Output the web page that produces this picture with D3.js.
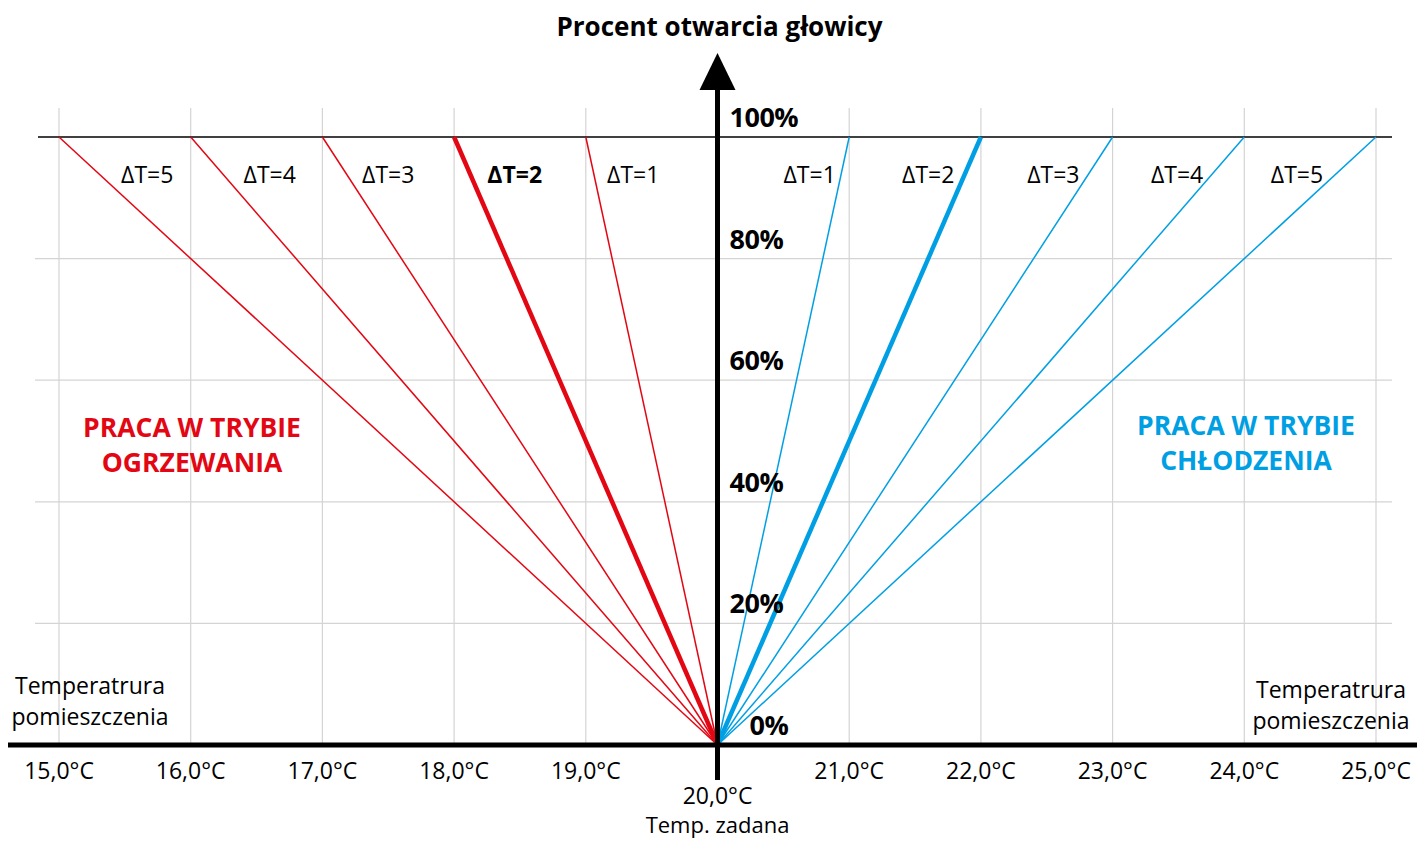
<!DOCTYPE html>
<html><head><meta charset="utf-8">
<script src="https://cdn.jsdelivr.net/npm/d3@7"></script>
<style>body{margin:0;background:#fff}svg{display:block}text{font-family:"Open Sans","Noto Sans",sans-serif}</style>
</head><body><svg id="c" width="1417" height="841"></svg>
<script>
const xTicks = [15,16,17,18,19,20,21,22,23,24,25];
const xTickLabels = ["15,0°C","16,0°C","17,0°C","18,0°C","19,0°C","20,0°C","21,0°C","22,0°C","23,0°C","24,0°C","25,0°C"];
const yTicks = [0,20,40,60,80,100];
const yTickLabels = ["0%","20%","40%","60%","80%","100%"];
const setpoint = 20;
const heatingDeltas = [5,4,3,2,1];
const coolingDeltas = [1,2,3,4,5];
const heatingLabelX = [15.67,16.6,17.5,18.46,19.36];
const coolingLabelX = [20.7,21.6,22.55,23.49,24.4];
const highlighted = 2;

const svg = d3.select("#c");
const x = d3.scaleLinear().domain([15,25]).range([59,1376]);
const y = d3.scaleLinear().domain([0,100]).range([745,137]);
const RED = "#e30613", BLUE = "#009fe3";

// grid
svg.append("g").selectAll("line").data(yTicks.filter(v=>v>0&&v<100)).join("line")
  .attr("x1",35).attr("x2",1392).attr("y1",d=>y(d)).attr("y2",d=>y(d))
  .attr("stroke","#d4d4d4").attr("stroke-width",1.2);
svg.append("g").selectAll("line").data(xTicks.filter(v=>v!==setpoint)).join("line")
  .attr("x1",d=>x(d)).attr("x2",d=>x(d)).attr("y1",108).attr("y2",y(0))
  .attr("stroke","#d4d4d4").attr("stroke-width",1.2);
svg.append("line").attr("x1",38).attr("x2",1392).attr("y1",y(100)).attr("y2",y(100))
  .attr("stroke","#000").attr("stroke-width",1.3);

// lines
svg.append("g").selectAll("line").data(heatingDeltas).join("line")
  .attr("x1",d=>x(setpoint-d)).attr("y1",y(100)).attr("x2",x(setpoint)).attr("y2",y(0))
  .attr("stroke",RED).attr("stroke-width",d=>d===highlighted?4.5:1.5);
svg.append("g").selectAll("line").data(coolingDeltas).join("line")
  .attr("x1",x(setpoint)).attr("y1",y(0)).attr("x2",d=>x(setpoint+d)).attr("y2",y(100))
  .attr("stroke",BLUE).attr("stroke-width",d=>d===highlighted?4.5:1.5);

// axes
svg.append("line").attr("x1",8).attr("x2",1417).attr("y1",y(0)).attr("y2",y(0))
  .attr("stroke","#000").attr("stroke-width",5);
const ax = x(setpoint);
svg.append("line").attr("x1",ax).attr("x2",ax).attr("y1",85).attr("y2",780)
  .attr("stroke","#000").attr("stroke-width",5);
svg.append("path").attr("d",`M${ax},53 L${ax+18},90 L${ax-18},90 Z`).attr("fill","#000");

// title
svg.append("text").attr("x",ax+2).attr("y",36).attr("text-anchor","middle")
  .attr("font-size",26).attr("font-weight",700).text("Procent otwarcia głowicy");

// y tick labels
svg.append("g").selectAll("text").data(yTicks).join("text")
  .attr("x",d=>d===0?ax+32:ax+12).attr("y",d=>y(d)-10).attr("font-size",27).attr("font-weight",700)
  .attr("letter-spacing",-0.5)
  .text((d,i)=>yTickLabels[i]);

// x tick labels
svg.append("g").selectAll("text").data(xTicks).join("text")
  .attr("x",d=>x(d)).attr("y",d=>d===setpoint?804:779).attr("text-anchor","middle")
  .attr("font-size",23).text((d,i)=>xTickLabels[i]);
svg.append("text").attr("x",ax).attr("y",833).attr("text-anchor","middle").attr("font-size",22).text("Temp. zadana");

// room temperature labels
[[90,694],[1331,698]].forEach(([cx,cy])=>{
  const t = svg.append("text").attr("text-anchor","middle").attr("font-size",23);
  t.append("tspan").attr("x",cx).attr("y",cy).text("Temperatrura");
  t.append("tspan").attr("x",cx).attr("y",cy+31).text("pomieszczenia");
});

// delta labels
svg.append("g").selectAll("text").data(heatingDeltas).join("text")
  .attr("x",(d,i)=>x(heatingLabelX[i])).attr("y",183).attr("text-anchor","middle")
  .attr("font-size",23).attr("font-weight",d=>d===highlighted?700:400).text(d=>"ΔT="+d);
svg.append("g").selectAll("text").data(coolingDeltas).join("text")
  .attr("x",(d,i)=>x(coolingLabelX[i])).attr("y",183).attr("text-anchor","middle")
  .attr("font-size",23).text(d=>"ΔT="+d);

// mode labels
[[192,437,RED,"PRACA W TRYBIE","OGRZEWANIA"],[1246,435,BLUE,"PRACA W TRYBIE","CHŁODZENIA"]].forEach(([cx,cy,c,a,b])=>{
  const t = svg.append("text").attr("text-anchor","middle").attr("font-size",26.5).attr("font-weight",700).attr("fill",c);
  t.append("tspan").attr("x",cx).attr("y",cy).text(a);
  t.append("tspan").attr("x",cx).attr("y",cy+35).text(b);
});
</script></body></html>
